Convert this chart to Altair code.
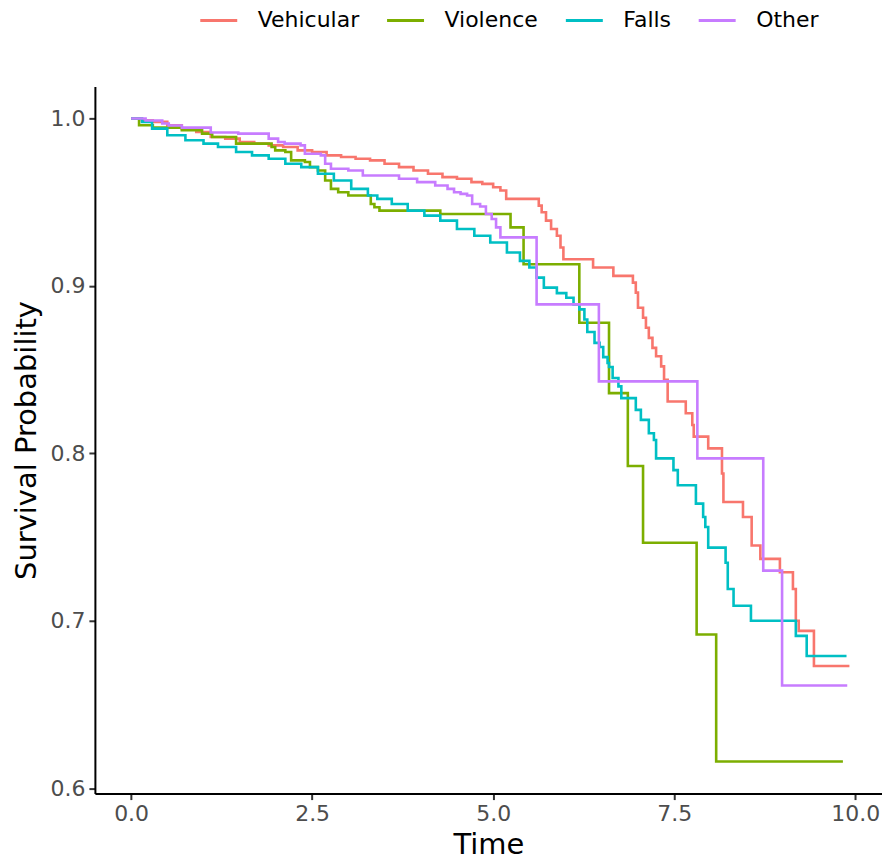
import altair as alt
import pandas as pd

groups = ["Vehicular", "Violence", "Falls", "Other"]
colors = ["#F8766D", "#7CAE00", "#00BFC4", "#C77CFF"]

veh_t = [0, 0.15, 0.3, 0.5, 0.7, 0.9, 1.1, 1.3, 1.5, 1.7, 1.9, 2.1, 2.3, 2.5, 2.7, 2.9, 3.1, 3.3, 3.5, 3.7,
         3.9, 4.1, 4.3, 4.5, 4.7, 4.85, 5.0, 5.1, 5.18, 5.63, 5.67, 5.73, 5.8, 5.88, 5.93, 5.97, 6.38, 6.66, 6.93, 6.97,
         7.0, 7.07, 7.11, 7.15, 7.2, 7.25, 7.32, 7.36, 7.41, 7.66, 7.75, 7.77, 7.97, 8.16, 8.18, 8.45, 8.57, 8.69, 8.96, 9.14,
         9.18, 9.22, 9.43, 9.92]
veh_s = [1.0, 0.999, 0.998, 0.996, 0.994, 0.992, 0.989, 0.988, 0.986, 0.985, 0.984, 0.983, 0.981, 0.980, 0.978, 0.977, 0.976, 0.975, 0.973, 0.971,
         0.969, 0.967, 0.965, 0.964, 0.962, 0.961, 0.959, 0.957, 0.952, 0.948, 0.944, 0.939, 0.934, 0.930, 0.923, 0.916, 0.911, 0.906, 0.902, 0.896,
         0.887, 0.881, 0.875, 0.869, 0.863, 0.858, 0.852, 0.844, 0.831, 0.824, 0.817, 0.810, 0.803, 0.788, 0.771, 0.762, 0.745, 0.737, 0.729, 0.719,
         0.700, 0.694, 0.673, 0.673]

vio_t = [0, 0.11, 0.3, 0.7, 0.98, 1.12, 1.45, 1.94, 1.99, 2.13, 2.21, 2.4, 2.47, 2.58, 2.68, 2.76, 2.86, 3.0, 3.31, 3.36,
         3.43, 4.27, 5.24, 5.42, 6.19, 6.6, 6.86, 7.07, 7.81, 8.08, 9.83]
vio_s = [1.0, 0.996, 0.9946, 0.993, 0.991, 0.989, 0.985, 0.983, 0.981, 0.980, 0.975, 0.974, 0.971, 0.969, 0.963, 0.958, 0.956, 0.954, 0.949, 0.947,
         0.945, 0.943, 0.935, 0.913, 0.878, 0.836, 0.7925, 0.7466, 0.6918, 0.616, 0.616]

fal_t = [0, 0.15, 0.29, 0.5, 0.75, 1.0, 1.2, 1.45, 1.67, 1.9, 2.13, 2.35, 2.58, 2.8, 3.04, 3.27, 3.4, 3.6, 3.82, 4.05,
         4.27, 4.5, 4.74, 4.96, 5.19, 5.37, 5.5, 5.6, 5.7, 5.88, 6.01, 6.11, 6.19, 6.26, 6.3, 6.4, 6.47, 6.52, 6.58, 6.6,
         6.65, 6.73, 6.77, 6.97, 7.04, 7.15, 7.22, 7.25, 7.49, 7.55, 7.8, 7.9, 7.93, 7.97, 8.21, 8.24, 8.32, 8.56, 9.18, 9.33,
         9.88]
fal_s = [1.0, 0.998, 0.994, 0.990, 0.987, 0.985, 0.983, 0.980, 0.978, 0.976, 0.973, 0.971, 0.967, 0.963, 0.958, 0.954, 0.952, 0.949, 0.945, 0.942,
         0.939, 0.934, 0.930, 0.926, 0.920, 0.915, 0.911, 0.905, 0.899, 0.8957, 0.893, 0.889, 0.886, 0.880, 0.8725, 0.866, 0.8635, 0.8575, 0.854, 0.8516,
         0.845, 0.840, 0.833, 0.826, 0.820, 0.812, 0.808, 0.797, 0.790, 0.781, 0.770, 0.762, 0.756, 0.7437, 0.7347, 0.719, 0.709, 0.700, 0.691, 0.679,
         0.679]

oth_t = [0, 0.2, 0.43, 0.52, 0.7, 1.1, 1.48, 1.9, 2.03, 2.12, 2.34, 2.4, 2.62, 2.68, 2.76, 3.0, 3.2, 3.7, 3.95, 4.2,
         4.37, 4.46, 4.55, 4.64, 4.71, 4.82, 4.9, 4.98, 5.04, 5.1, 5.6, 6.46, 7.82, 8.73, 8.99, 9.89]
oth_s = [1.0, 0.9988, 0.997, 0.9958, 0.9946, 0.9917, 0.991, 0.988, 0.986, 0.985, 0.984, 0.979, 0.978, 0.973, 0.970, 0.969, 0.966, 0.964, 0.962, 0.960,
         0.958, 0.956, 0.955, 0.954, 0.949, 0.9475, 0.943, 0.940, 0.935, 0.929, 0.889, 0.843, 0.797, 0.730, 0.6614, 0.6614]

x_ticks = [0, 2.5, 5, 7.5, 10]
y_ticks = [0.6, 0.7, 0.8, 0.9, 1.0]

rows = []
for g, ts, ss in [("Vehicular", veh_t, veh_s), ("Violence", vio_t, vio_s),
                  ("Falls", fal_t, fal_s), ("Other", oth_t, oth_s)]:
    for t, s in zip(ts, ss):
        rows.append({"Time": t, "Survival": s, "Group": g})
df = pd.DataFrame(rows)

FONT = "DejaVu Sans"

chart = alt.Chart(df).mark_line(interpolate="step-after", strokeWidth=2.6).encode(
    x=alt.X("Time:Q",
            scale=alt.Scale(domain=[-0.5, 10.37], nice=False, zero=False),
            axis=alt.Axis(values=x_ticks, format=".1f", title="Time",
                          titleY=51, titleBaseline="middle")),
    y=alt.Y("Survival:Q",
            scale=alt.Scale(domain=[0.5968, 1.0192], nice=False, zero=False),
            axis=alt.Axis(values=y_ticks, format=".1f", title="Survival Probability",
                          titleX=-68, titleBaseline="middle")),
    color=alt.Color("Group:N", title=None,
                    scale=alt.Scale(domain=groups, range=colors),
                    legend=alt.Legend(orient="none", legendX=104, legendY=-86,
                                      direction="horizontal", symbolType="stroke",
                                      symbolSize=1369, symbolStrokeWidth=3,
                                      labelFontSize=22, labelFont=FONT, labelColor="#000000",
                                      labelOffset=19, columnPadding=21)),
).properties(
    width=788, height=708,
    background="#FFFFFF",
    autosize=alt.AutoSizeParams(type="none"),
    padding={"left": 87, "top": 78, "right": 0, "bottom": 66},
).configure_view(stroke=None).configure_axis(
    grid=False, domainColor="#000000", domainWidth=2,
    tickColor="#333333", tickWidth=2, tickSize=6,
    labelColor="#4D4D4D", labelFontSize=22, labelFont=FONT, labelPadding=4,
    titleColor="#000000", titleFontSize=29, titleFont=FONT, titleFontWeight="normal",
)

chart.save("out.html", embed_options={"renderer": "svg", "actions": False})
